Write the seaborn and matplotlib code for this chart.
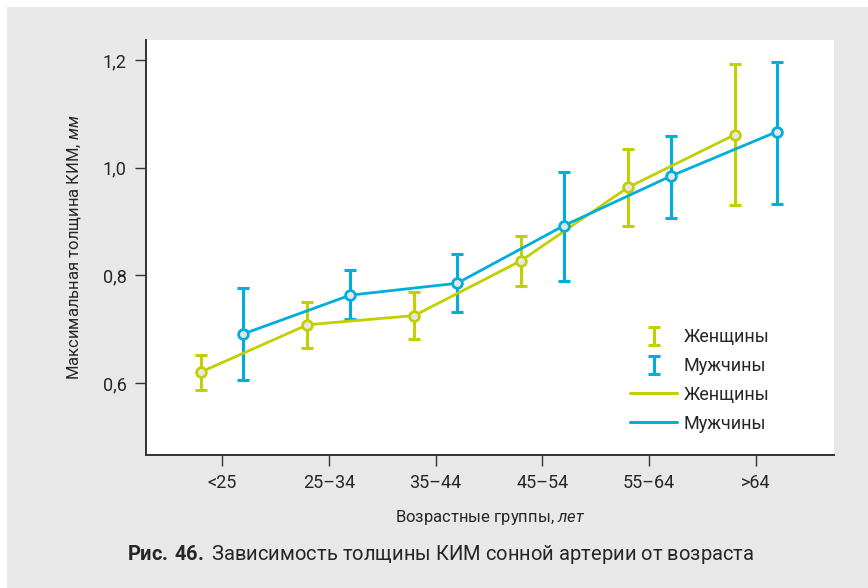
import numpy as np
import pandas as pd
import matplotlib
matplotlib.use("Agg")
import matplotlib.pyplot as plt
import seaborn as sns
from matplotlib.patches import Rectangle
from matplotlib.lines import Line2D

######################################################################
# Data
groups = ['<25', '25–34', '35–44', '45–54', '55–64', '>64']

women = [0.620, 0.708, 0.725, 0.827, 0.963, 1.061]
women_lo = [0.587, 0.664, 0.681, 0.780, 0.892, 0.930]
women_hi = [0.651, 0.750, 0.768, 0.873, 1.034, 1.192]

men = [0.691, 0.763, 0.785, 0.892, 0.984, 1.067]
men_lo = [0.606, 0.718, 0.731, 0.789, 0.906, 0.932]
men_hi = [0.776, 0.810, 0.839, 0.991, 1.058, 1.197]

yticks = [0.6, 0.8, 1.0, 1.2]
ytick_labels = ['0,6', '0,8', '1,0', '1,2']

green = '#c2cf00'
blue = '#00aedb'
bg = '#e8e8e8'

######################################################################
# Style
sns.set_style('white')
plt.rcParams['font.family'] = ['Roboto', 'DejaVu Sans']
plt.rcParams['mathtext.fontset'] = 'custom'
plt.rcParams['mathtext.rm'] = 'Roboto'
plt.rcParams['mathtext.it'] = 'Roboto:italic'
plt.rcParams['mathtext.bf'] = 'Roboto:bold'

fig = plt.figure(figsize=(8.68, 5.88), dpi=100)
fig.patches.append(Rectangle((7 / 868, 0), 1, (588 - 7) / 588, transform=fig.transFigure,
                             facecolor=bg, edgecolor='none', zorder=-10))
ax = fig.add_axes([146 / 868, 133 / 588, 688 / 868, 415 / 588])
ax.set_facecolor('white')

x = np.arange(len(groups))
off = 0.2
df = pd.DataFrame({
    'x': np.concatenate([x - off, x + off]),
    'y': women + men,
    'sex': ['Женщины'] * len(groups) + ['Мужчины'] * len(groups),
})

# error bars
w_err = [np.array(women) - np.array(women_lo), np.array(women_hi) - np.array(women)]
m_err = [np.array(men) - np.array(men_lo), np.array(men_hi) - np.array(men)]
eb1 = ax.errorbar(x - off, women, yerr=w_err, fmt='none', ecolor=green, elinewidth=2.2,
                  capsize=4.2, capthick=2.2, label='Женщины', zorder=2)
eb2 = ax.errorbar(x + off, men, yerr=m_err, fmt='none', ecolor=blue, elinewidth=2.2,
                  capsize=4.2, capthick=2.2, label='Мужчины', zorder=2)

# lines with markers
n_before = len(ax.lines)
sns.lineplot(data=df, x='x', y='y', hue='sex', palette=[green, blue], linewidth=2.0,
             marker='o', markersize=7, markerfacecolor='#e6e6e6', markeredgewidth=2.0,
             ax=ax, zorder=3, legend=False)
for ln, c in zip(ax.lines[n_before:], [green, blue]):
    ln.set_markeredgecolor(c)

# legend
h_lines = [Line2D([], [], color=green, lw=2.2), Line2D([], [], color=blue, lw=2.2)]
leg = ax.legend([eb1, eb2] + h_lines, ['Женщины', 'Мужчины', 'Женщины', 'Мужчины'],
                loc='upper left', bbox_to_anchor=(0.68, 0.345), frameon=False,
                fontsize=13, handlelength=2.6, labelspacing=0.6, handletextpad=0.35)

ax.set_xlim(-0.712, 5.73)
ax.set_ylim(0.466, 1.237)
ax.set_xticks(x)
ax.set_xticklabels(groups, fontsize=13)
ax.set_yticks(yticks)
ax.set_yticklabels(ytick_labels, fontsize=13)
ax.tick_params(axis='both', direction='out', length=8, width=1, color='#333333',
               left=True, bottom=True, pad=6)

sns.despine(ax=ax, top=True, right=True)
for s in ['left', 'bottom']:
    ax.spines[s].set_color('#333333')
    ax.spines[s].set_linewidth(1.4)

ax.set_xlabel(r'Возрастные группы, $\mathit{лет}$', fontsize=12, labelpad=11)
ax.set_ylabel(r'Максимальная толщина КИМ, $\mathit{мм}$', fontsize=12, labelpad=14)

fig.text(127 / 868, 1 - 555 / 588, r'$\mathbf{Рис.\,46.}$ Зависимость толщины КИМ сонной артерии от возраста',
         fontsize=14.5, va='center', ha='left')

fig.savefig('out.png', dpi=100, facecolor='white')
